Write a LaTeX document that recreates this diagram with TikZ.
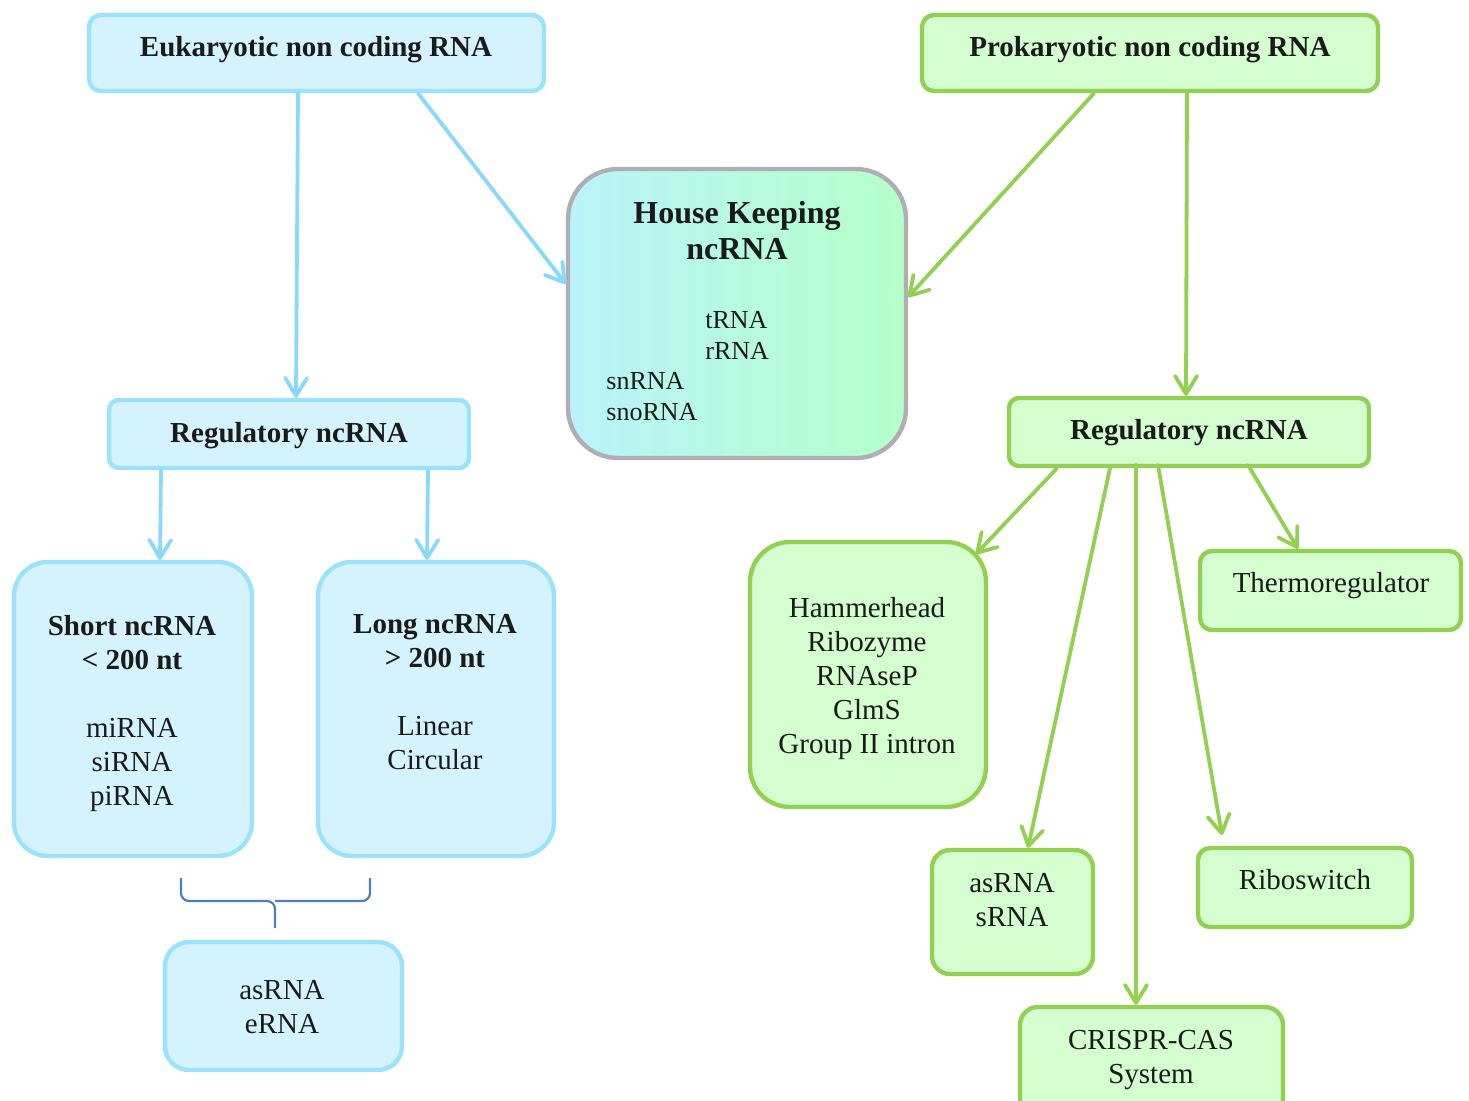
\documentclass[tikz,border=0pt]{standalone}
\usepackage{fontspec}
\setmainfont{Liberation Serif}
\usetikzlibrary{arrows.meta,calc}
\definecolor{efill}{HTML}{D5F3FE}
\definecolor{eborder}{HTML}{9AE3FD}
\definecolor{earr}{HTML}{88D9FC}
\definecolor{gfill}{HTML}{D4FDD0}
\definecolor{gborder}{HTML}{92D050}
\definecolor{hkL}{HTML}{B9F3FA}
\definecolor{hkR}{HTML}{B5FFC8}
\definecolor{hkB}{HTML}{AEAEB3}
\definecolor{bracec}{HTML}{4F7FBD}
\definecolor{txt}{HTML}{1A1A1A}
\tikzset{
  box/.style={rectangle, draw, line width=2.2pt, inner sep=0pt},
  ebox/.style={box, draw=eborder, fill=efill},
  gbox/.style={box, draw=gborder, fill=gfill},
  lbl/.style={inner sep=0pt, anchor=base, align=center, text=txt, font=\fontsize{14.5}{17}\selectfont},
  blbl/.style={lbl, font=\fontsize{14.5}{17}\selectfont\bfseries},
  earrow/.style={draw=earr, line width=1.9pt, line cap=round, -{Straight Barb[length=9pt,width=11pt,round]}},
  garrow/.style={draw=gborder, line width=1.9pt, line cap=round, -{Straight Barb[length=9pt,width=11pt,round]}},
}
\begin{document}
\begin{tikzpicture}[x=0.5pt,y=-0.5pt]
\useasboundingbox (0,0) rectangle (1469,1100);
% boxes
\node[ebox, rounded corners=6pt, minimum width=227.5pt, minimum height=38pt] (eu) at (316.5,53) {};
\node[gbox, rounded corners=6pt, minimum width=228pt, minimum height=38pt] (pr) at (1150,53) {};
\node[box, draw=hkB, left color=hkL, right color=hkR, rounded corners=25pt, minimum width=169pt, minimum height=144.5pt] (hk) at (737,313.5) {};
\node[ebox, rounded corners=5pt, minimum width=180pt, minimum height=34pt] (rl) at (289,434) {};
\node[ebox, rounded corners=17pt, minimum width=119pt, minimum height=147pt] (sh) at (133,709) {};
\node[ebox, rounded corners=17pt, minimum width=118pt, minimum height=147pt] (lo) at (436,709) {};
\node[ebox, rounded corners=12pt, minimum width=118.5pt, minimum height=64pt] (ae) at (283.5,1006) {};
\node[gbox, rounded corners=5pt, minimum width=180pt, minimum height=34pt] (rr) at (1189,432) {};
\node[gbox, rounded corners=20pt, minimum width=118pt, minimum height=132.5pt] (hh) at (868,674.5) {};
\node[gbox, rounded corners=6pt, minimum width=130.5pt, minimum height=39.5pt] (th) at (1330.5,590.5) {};
\node[gbox, rounded corners=9pt, minimum width=80.5pt, minimum height=62pt] (as) at (1012.5,912) {};
\node[gbox, rounded corners=6pt, minimum width=107pt, minimum height=39.5pt] (rb) at (1305,887.5) {};
\node[gbox, rounded corners=9pt, minimum width=131.5pt, minimum height=55.5pt] (cr) at (1151.5,1062.5) {};
% texts (base = baseline of last line)
\node[blbl] (teu) at (316,56) {Eukaryotic non coding RNA};
\node[blbl] (tpr) at (1150,56) {Prokaryotic non coding RNA};
\node[blbl, font=\fontsize{16}{18}\selectfont\bfseries] (thk) at (737,259) {House Keeping\\ncRNA};
\node[lbl, anchor=base west, align=left, font=\fontsize{13}{15.5}\selectfont] (thk1) at (705,359.5) {tRNA\\rRNA};
\node[lbl, anchor=base west, align=left, font=\fontsize{13}{15.5}\selectfont] (thk2) at (606,420.5) {snRNA\\snoRNA};
\node[blbl] (trl) at (289,442) {Regulatory ncRNA};
\node[blbl] (trr) at (1189,439) {Regulatory ncRNA};
\node[lbl] (tsh) at (132,805) {\textbf{Short ncRNA}\\\textbf{< 200 nt}\\[17pt]miRNA\\siRNA\\piRNA};
\node[lbl] (tlo) at (435,769) {\textbf{Long ncRNA}\\\textbf{> 200 nt}\\[17pt]Linear\\Circular};
\node[lbl] (tae) at (282,1033) {asRNA\\eRNA};
\node[lbl] (thh) at (867,753) {Hammerhead\\Ribozyme\\RNAseP\\GlmS\\Group II intron};
\node[lbl] (tth) at (1331,592) {Thermoregulator};
\node[lbl] (tas) at (1012,926) {asRNA\\sRNA};
\node[lbl] (trb) at (1305,889) {Riboswitch};
\node[lbl] (tcr) at (1151,1083) {CRISPR-CAS\\System};
% endpoints
\coordinate (hhin) at (976,554);
\coordinate (rbin) at (1222,835);
% arrows
\draw[earrow] (298,0 |- eu.south) -- (296,0 |- rl.north);
\draw[earrow] (418,0 |- eu.south) -- (hk.west |- 0,284);
\draw[garrow] (1094,0 |- pr.south) -- (hk.east |- 0,297);
\draw[garrow] (1187,0 |- pr.south) -- (1186,0 |- rr.north);
\draw[earrow] (161,0 |- rl.south) -- (160,0 |- sh.north);
\draw[earrow] (428,0 |- rl.south) -- (427,0 |- lo.north);
\draw[garrow] (1057,0 |- rr.south) -- (hhin);
\draw[garrow] (1110,0 |- rr.south) -- (1028,0 |- as.north);
\draw[garrow] (1136,465) -- (1136,0 |- cr.north);
\draw[garrow] (1158,465) -- (rbin);
\draw[garrow] (1248,465) -- (1298,0 |- th.north);
% brace
\draw[bracec, line width=1.1pt, rounded corners=4pt] (181,878) -- (181,901) -- (275,901) -- (275,928);
\draw[bracec, line width=1.1pt, rounded corners=4pt] (370,878) -- (370,901) -- (275,901);
\end{tikzpicture}
\end{document}
